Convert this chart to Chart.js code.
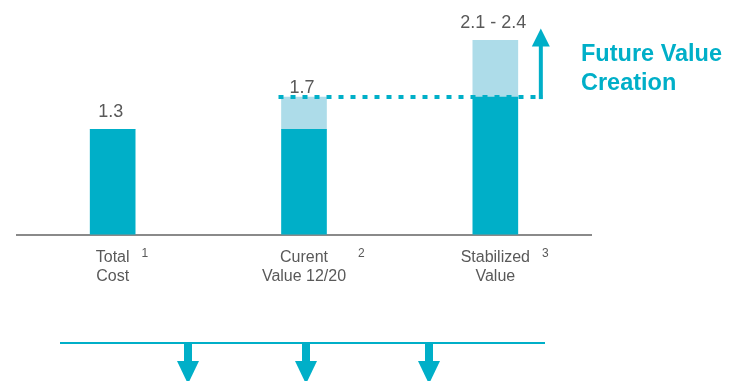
<!DOCTYPE html>
<html>
<head>
<meta charset="utf-8">
<script src="https://cdn.jsdelivr.net/npm/chart.js@4"></script>
<style>
  body { margin: 0; background: #fff; }
  #wrap { width: 731px; height: 381px; }
</style>
</head>
<body>
<div id="wrap"><canvas id="valueChart" width="731" height="381"></canvas></div>
<script>
// value build-up, in the same units as the labels above the bars
const categories = [['Total', 'Cost'], ['Curent', 'Value 12/20'], ['Stabilized', 'Value']];
const footnotes = ['1', '2', '3'];
const baseValues = [1.3, 1.3, 1.7];
const topValues = [1.3, 1.7, 2.4];
const stabilizedRange = [2.1, 2.4];
const valueLabels = ['1.3', '1.7', stabilizedRange[0] + ' - ' + stabilizedRange[1]];
const calloutLines = ['Future Value', 'Creation'];

const TEAL = '#00AFC8';
const LIGHT = '#ADDCE9';
const GREY_TEXT = '#595959';

const upsideValues = topValues.map((v, i) => +(v - baseValues[i]).toFixed(2));

const overlayPlugin = {
    id: 'overlay',
    afterDatasetsDraw(chart) {
        const ctx = chart.ctx;
        const x = chart.scales.x;
        const y = chart.scales.y;
        const bars = chart.getDatasetMeta(0).data;
        const half = 22.5;

        ctx.save();

        // dotted line at current value, running out to the arrow
        const lineY = y.getPixelForValue(topValues[1]);
        const arrowX = bars[2].x + half + 23;
        ctx.strokeStyle = TEAL;
        ctx.lineWidth = 4;
        ctx.setLineDash([5, 7]);
        ctx.beginPath();
        ctx.moveTo(bars[1].x - half - 3, lineY);
        ctx.lineTo(arrowX + 2, lineY);
        ctx.stroke();
        ctx.setLineDash([]);

        // upward arrow
        const tipY = y.getPixelForValue(topValues[2]) - 12;
        ctx.lineWidth = 4;
        ctx.beginPath();
        ctx.moveTo(arrowX, lineY + 2);
        ctx.lineTo(arrowX, tipY + 16);
        ctx.stroke();
        ctx.fillStyle = TEAL;
        ctx.beginPath();
        ctx.moveTo(arrowX, tipY);
        ctx.lineTo(arrowX - 9, tipY + 18);
        ctx.lineTo(arrowX + 9, tipY + 18);
        ctx.closePath();
        ctx.fill();

        // value labels above the bars
        ctx.fillStyle = GREY_TEXT;
        ctx.font = '18px "Liberation Sans", Arial, sans-serif';
        ctx.textAlign = 'center';
        ctx.textBaseline = 'alphabetic';
        valueLabels.forEach((label, i) => {
            const top = y.getPixelForValue(topValues[i]);
            const gap = i === 1 ? 4 : 12;
            ctx.fillText(label, bars[i].x - 2, top - gap);
        });

        // footnote markers beside the category names
        ctx.font = '16px "Liberation Sans", Arial, sans-serif';
        const widths = categories.map(lines => Math.max(...lines.map(l => ctx.measureText(l).width)));
        ctx.font = '12px "Liberation Sans", Arial, sans-serif';
        ctx.textAlign = 'left';
        footnotes.forEach((note, i) => {
            const cx = x.getPixelForValue(i);
            ctx.fillText(note, cx + widths[i] / 2 + 12, y.bottom + 22);
        });

        // callout text
        ctx.fillStyle = TEAL;
        ctx.font = 'bold 23.5px "Liberation Sans", Arial, sans-serif';
        calloutLines.forEach((line, i) => {
            ctx.fillText(line, 581, 61 + i * 29);
        });

        // bottom rule with down arrows
        ctx.strokeStyle = TEAL;
        ctx.lineWidth = 2;
        ctx.beginPath();
        ctx.moveTo(60, 343);
        ctx.lineTo(545, 343);
        ctx.stroke();
        [188, 306, 429].forEach(ax => {
            ctx.fillRect(ax - 4, 343, 8, 19);
            ctx.beginPath();
            ctx.moveTo(ax - 11, 361);
            ctx.lineTo(ax + 11, 361);
            ctx.lineTo(ax, 384);
            ctx.closePath();
            ctx.fill();
        });

        ctx.restore();
    }
};

const valueChart = new Chart(document.getElementById('valueChart'), {
    type: 'bar',
    data: {
        labels: categories,
        datasets: [{
            label: 'Base',
            data: baseValues,
            backgroundColor: TEAL,
            barThickness: 45
        }, {
            label: 'Upside',
            data: upsideValues,
            backgroundColor: LIGHT,
            barThickness: 45
        }]
    },
    options: {
        responsive: false,
        animation: false,
        layout: {
            padding: { left: 17, right: 140, top: 0, bottom: 82 }
        },
        plugins: {
            legend: { display: false },
            tooltip: { enabled: false }
        },
        scales: {
            x: {
                stacked: true,
                grid: { display: false, drawTicks: false },
                border: { display: true, color: '#8a8a8a', width: 2 },
                ticks: {
                    color: GREY_TEXT,
                    padding: 13,
                    font: { family: '"Liberation Sans", Arial, sans-serif', size: 16, lineHeight: 1.2 }
                }
            },
            y: {
                stacked: true,
                display: false,
                min: 0,
                max: 2.9
            }
        }
    },
    plugins: [overlayPlugin]
});
</script>
</body>
</html>
